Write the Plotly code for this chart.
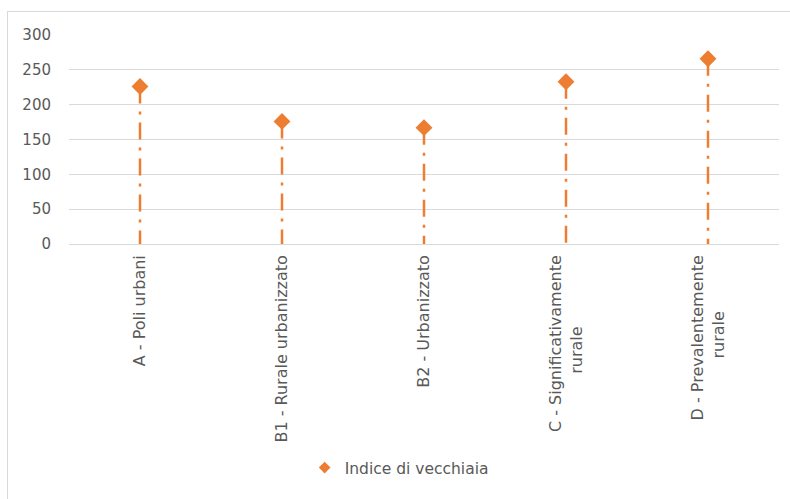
import plotly.graph_objects as go

categories = ["A - Poli urbani", "B1 - Rurale urbanizzato", "B2 - Urbanizzato",
              "C - Significativamente<br>rurale", "D - Prevalentemente<br>rurale"]
values = [226, 176, 167, 233, 266]
y_ticks = [0, 50, 100, 150, 200, 250, 300]
series_name = "Indice di vecchiaia"

ORANGE = "#ED7D31"
TEXT = "#595959"
GRID = "#D9D9D9"
FONT = "DejaVu Sans"
W, H = 790, 499
L, R, T, B = 69, 11, 35, 255


def centre_lines(label):
    """Pad shorter wrapped lines so rotated lines appear centred (as in Excel)."""
    lines = label.split("<br>")
    if len(lines) == 1:
        return label
    longest = max(len(s) for s in lines)
    out = []
    for s in lines:
        pad = round((longest - len(s)) / 2 * 1.75)
        out.append(s + "\u00a0" * pad)
    return "<br>".join(out)


ticktext = [centre_lines(c) for c in categories]

fig = go.Figure()
xs = list(range(len(categories)))
for x, v in zip(xs, values):
    fig.add_trace(go.Scatter(x=[x, x], y=[v, 0], mode="lines",
                             line=dict(color=ORANGE, width=2.5, dash="17px,8px,3px,8px"),
                             showlegend=False, hoverinfo="skip"))
fig.add_trace(go.Scatter(x=xs, y=values, mode="markers", name=series_name,
                         showlegend=False,
                         marker=dict(symbol="diamond", size=13, color=ORANGE)))
# legend entry (small symbol, as in the reference)
fig.add_trace(go.Scatter(x=[None], y=[None], mode="markers", name=series_name,
                         marker=dict(symbol="diamond", size=9, color=ORANGE)))

pw = W - L - R
ph = H - T - B
def px_x(p):
    return (p - L) / pw
def px_y(p):
    return (H - B - p) / ph

fig.add_shape(type="line", xref="paper", yref="paper", x0=px_x(7), x1=px_x(792),
              y0=px_y(11.5), y1=px_y(11.5), line=dict(color=GRID, width=1))
fig.add_shape(type="line", xref="paper", yref="paper", x0=px_x(7.5), x1=px_x(7.5),
              y0=px_y(11), y1=px_y(502), line=dict(color=GRID, width=1))

fig.update_layout(
    width=W, height=H,
    margin=dict(l=L, r=R, t=T, b=B, autoexpand=False),
    paper_bgcolor="white", plot_bgcolor="white",
    font=dict(family=FONT, size=15, color=TEXT),
    showlegend=True,
    legend=dict(orientation="h", x=0.465, xanchor="center", xref="paper",
                y=1 - 468 / H, yref="container", yanchor="middle",
                font=dict(family=FONT, size=15.5, color=TEXT), itemwidth=30),
    xaxis=dict(range=[-0.5, len(categories) - 0.5], tickvals=xs, ticktext=ticktext,
               tickangle=-90, showgrid=False, zeroline=False, showline=False,
               ticks="", tickfont=dict(family=FONT, size=16, color=TEXT),
               ticklabelstandoff=7, automargin=False),
    yaxis=dict(range=[0, 300], tickvals=y_ticks, showgrid=True, gridcolor=GRID,
               gridwidth=1, zeroline=True, zerolinecolor=GRID, zerolinewidth=1,
               showline=False, ticks="", tickfont=dict(family=FONT, size=15, color=TEXT),
               ticklabelstandoff=17, automargin=False),
)

fig.write_html("out.html", config={"displayModeBar": False},
               post_script="document.body.style.margin='0';")
